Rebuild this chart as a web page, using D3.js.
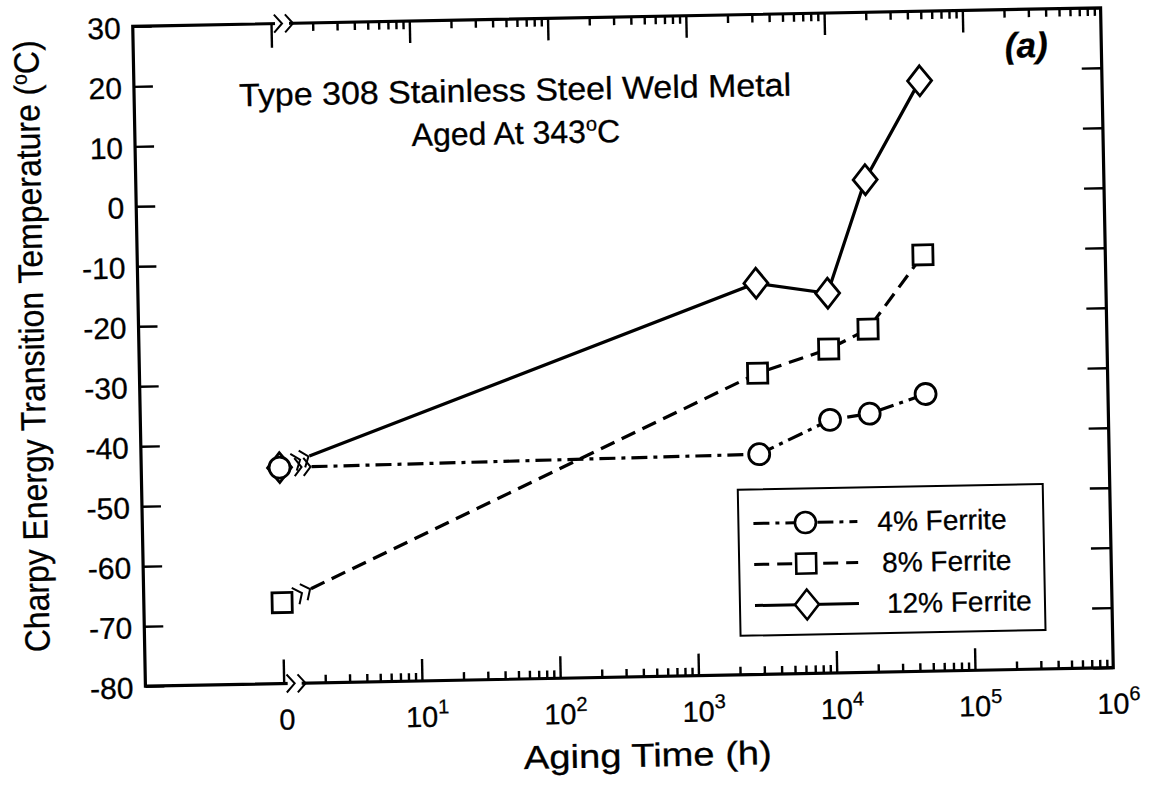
<!DOCTYPE html>
<html>
<head>
<meta charset="utf-8">
<script src="https://cdn.jsdelivr.net/npm/d3@7"></script>
<style>
  body { margin: 0; background: #fff; }
  text { font-family: "Liberation Sans", Arial, Helvetica, sans-serif; fill: #000; stroke: #000; stroke-width: 0.3px; }
</style>
</head>
<body>
<svg id="chart" width="1152" height="785"></svg>
<script>
// Aging times in hours (0 h is drawn at the 10^0 position behind an axis break)
const agingHours = [0, 2950, 9700, 18800, 48000];
// Charpy energy transition temperature (°C) per ferrite content
const ferrite4 = [-44, -43.3, -37.8, -36.9, -33.8];
const ferrite8 = [-66.5, -29.8, -26.0, -22.8, -10.6];
const ferrite12 = [-44, -14.8, -16.7, 2.1, 18.4];
const seriesLabels = ["4% Ferrite", "8% Ferrite", "12% Ferrite"];
const yTickValues = [30, 20, 10, 0, -10, -20, -30, -40, -50, -60, -70, -80];
const xLabelExponents = [1, 2, 3, 4, 5, 6];

const frame = { left: 139, right: 1107, top: 17, bottom: 677 };

const svg = d3.select("#chart");
const g = svg.append("g").attr("transform", "rotate(-1.1 623 347)");

const x = d3.scaleLog().domain([0.1, 1e6]).range([frame.left, frame.right]);
const y = d3.scaleLinear().domain([-80, 30]).range([frame.bottom, frame.top]);
const xPos = h => x(h === 0 ? 1 : h);

// ---- ticks ----
const minorTicks = [];
for (let k = 0; k < 6; k++) for (let m = 2; m <= 9; m++) minorTicks.push(m * Math.pow(10, k));
const majorTicks = [10, 100, 1000, 1e4, 1e5];

function styleAxis(sel) {
  sel.select(".domain").remove();
  sel.selectAll(".tick line").attr("stroke", "#000").attr("stroke-width", 2.4);
  sel.selectAll(".tick text").remove();
}
// bottom
g.append("g").attr("transform", `translate(0,${frame.bottom})`)
  .call(d3.axisBottom(x).tickValues(minorTicks).tickSize(-8).tickFormat("")).call(styleAxis);
g.append("g").attr("transform", `translate(0,${frame.bottom})`)
  .call(d3.axisBottom(x).tickValues(majorTicks).tickSize(-22).tickFormat("")).call(styleAxis);
g.append("g").attr("transform", `translate(0,${frame.bottom})`)
  .call(d3.axisBottom(x).tickValues([1]).tickSize(-24).tickFormat("")).call(styleAxis);
// top
g.append("g").attr("transform", `translate(0,${frame.top})`)
  .call(d3.axisTop(x).tickValues(minorTicks).tickSize(-8).tickFormat("")).call(styleAxis);
g.append("g").attr("transform", `translate(0,${frame.top})`)
  .call(d3.axisTop(x).tickValues(majorTicks).tickSize(-22).tickFormat("")).call(styleAxis);
g.append("g").attr("transform", `translate(0,${frame.top})`)
  .call(d3.axisTop(x).tickValues([1]).tickSize(-24).tickFormat("")).call(styleAxis);
// left / right
g.append("g").attr("transform", `translate(${frame.left},0)`)
  .call(d3.axisLeft(y).tickValues(yTickValues).tickSize(-19).tickFormat("")).call(styleAxis);
g.append("g").attr("transform", `translate(${frame.right},0)`)
  .call(d3.axisRight(y).tickValues(yTickValues).tickSize(-20).tickFormat("")).call(styleAxis);

// frame
g.append("rect")
  .attr("x", frame.left).attr("y", frame.top)
  .attr("width", frame.right - frame.left).attr("height", frame.bottom - frame.top)
  .attr("fill", "none").attr("stroke", "#000").attr("stroke-width", 3.2);

// axis break marks next to the 0 position
function axisBreak(cx, cy, dir) {
  const bg = g.append("g");
  bg.append("rect").attr("x", cx + 3).attr("y", cy - 3).attr("width", 14).attr("height", 6).attr("fill", "#fff");
  [cx + 4, cx + 15].forEach(px => {
    bg.append("path")
      .attr("d", `M${px - 2},${cy - 9 * dir} L${px + 6},${cy} L${px - 2},${cy + 9 * dir}`)
      .attr("fill", "none").attr("stroke", "#000").attr("stroke-width", 2);
  });
}
axisBreak(x(1) + 1, frame.bottom, 1);
axisBreak(x(1) + 1, frame.top, -1);

// ---- tick labels ----
g.selectAll(".ylab").data(yTickValues).join("text")
  .attr("x", frame.left - 12).attr("y", d => y(d)).attr("dy", "0.4em")
  .attr("text-anchor", "end").attr("font-size", 30).text(d => d);

g.append("text").attr("x", x(1) + 3).attr("y", 723).attr("text-anchor", "middle")
  .attr("font-size", 29).text("0");
xLabelExponents.forEach(k => {
  const t = g.append("text").attr("x", x(Math.pow(10, k)) + 5).attr("y", 723)
    .attr("text-anchor", "middle").attr("font-size", 29);
  t.append("tspan").text("10");
  t.append("tspan").attr("dy", -13).attr("font-size", 20).text(k);
});

// axis titles
g.append("text").attr("x", 640).attr("y", 767).attr("text-anchor", "middle")
  .attr("font-size", 33).attr("textLength", 248).attr("lengthAdjust", "spacingAndGlyphs")
  .text("Aging Time (h)");
const yt = g.append("text").attr("transform", "translate(44,335) rotate(-90)")
  .attr("text-anchor", "middle").attr("font-size", 35)
  .attr("textLength", 612).attr("lengthAdjust", "spacingAndGlyphs");
yt.append("tspan").text("Charpy Energy Transition Temperature (");
yt.append("tspan").attr("dy", -12).attr("font-size", 21).text("o");
yt.append("tspan").attr("dy", 12).text("C)");

// annotations
g.append("text").attr("x", 520).attr("y", 99).attr("text-anchor", "middle")
  .attr("font-size", 32).attr("textLength", 552).attr("lengthAdjust", "spacingAndGlyphs")
  .text("Type 308 Stainless Steel Weld Metal");
const t2 = g.append("text").attr("x", 520).attr("y", 142).attr("text-anchor", "middle").attr("font-size", 32);
t2.append("tspan").text("Aged At 343");
t2.append("tspan").attr("dy", -12).attr("font-size", 20).text("o");
t2.append("tspan").attr("dy", 12).text("C");
g.append("text").attr("x", 1032).attr("y", 65).attr("text-anchor", "middle")
  .attr("font-size", 35).attr("font-weight", "bold").attr("font-style", "italic").text("(a)");

// ---- data ----
const series = [
  { name: seriesLabels[2], values: ferrite12, dash: null, marker: "diamond" },
  { name: seriesLabels[1], values: ferrite8, dash: "15,8", marker: "square" },
  { name: seriesLabels[0], values: ferrite4, dash: "16,6,4,6", marker: "circle" }
];

function markerPath(type) {
  if (type === "diamond") return "M0,-15 L12,0 L0,15 L-12,0 Z";
  if (type === "square") return "M-10,-10 L10,-10 L10,10 L-10,10 Z";
  return d3.symbol().type(d3.symbolCircle).size(Math.PI * 10.5 * 10.5)();
}

const line = d3.line().x(d => d[0]).y(d => d[1]);

series.forEach(s => {
  const pts = agingHours.map((h, i) => [xPos(h), y(s.values[i])]);
  // first segment starts after a break symbol beside the 0 h point
  const [p0, p1] = pts;
  const len = Math.hypot(p1[0] - p0[0], p1[1] - p0[1]);
  const ux = (p1[0] - p0[0]) / len, uy = (p1[1] - p0[1]) / len;
  const start = [p0[0] + ux * 32, p0[1] + uy * 32];
  g.append("path").datum([start, ...pts.slice(1)])
    .attr("d", line).attr("fill", "none").attr("stroke", "#000")
    .attr("stroke-width", 3.2).attr("stroke-dasharray", s.dash);
  // zigzag break
  const nx = -uy, ny = ux;
  [18, 27].forEach(dd => {
    const c = [p0[0] + ux * dd, p0[1] + uy * dd];
    const a = [c[0] + nx * 9 - ux * 3, c[1] + ny * 9 - uy * 3];
    const b = [c[0] + ux * 4, c[1] + uy * 4];
    const e = [c[0] - nx * 9 - ux * 3, c[1] - ny * 9 - uy * 3];
    g.append("path").attr("d", `M${a} L${b} L${e}`).attr("fill", "none")
      .attr("stroke", "#000").attr("stroke-width", 2);
  });
  s.pts = pts;
});

series.forEach(s => {
  g.selectAll(null).data(s.pts).join("path")
    .attr("transform", d => `translate(${d[0]},${d[1]})`)
    .attr("d", markerPath(s.marker))
    .attr("fill", "#fff").attr("stroke", "#000").attr("stroke-width", 2.8);
});

// ---- legend ----
const legend = g.append("g");
legend.append("rect").attr("x", 735).attr("y", 492).attr("width", 305).attr("height", 146)
  .attr("fill", "#fff").attr("stroke", "#000").attr("stroke-width", 2);
const legendRows = [series[2], series[1], series[0]];
legendRows.forEach((s, i) => {
  const cy = 526 + i * 41;
  legend.append("line").attr("x1", 750).attr("x2", 854).attr("y1", cy).attr("y2", cy)
    .attr("stroke", "#000").attr("stroke-width", 3).attr("stroke-dasharray", s.dash);
  legend.append("path").attr("transform", `translate(802,${cy})`).attr("d", markerPath(s.marker))
    .attr("fill", "#fff").attr("stroke", "#000").attr("stroke-width", 2.6);
  legend.append("text").attr("x", 874 + i * 4).attr("y", cy).attr("dy", "0.36em")
    .attr("font-size", 28).text(s.name);
});
</script>
</body>
</html>
